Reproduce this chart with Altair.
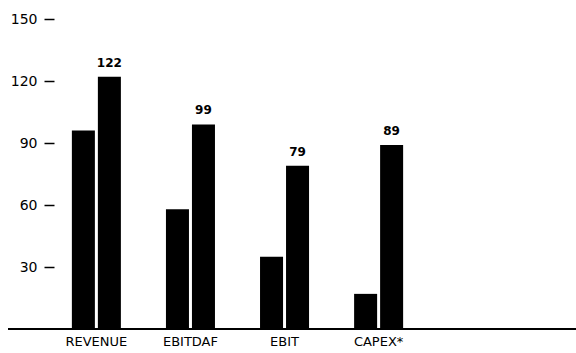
import altair as alt
import pandas as pd

# Key figures, prior period vs current period
categories = ["REVENUE", "EBITDAF", "EBIT", "CAPEX*"]
prior = [96, 58, 35, 17]
current = [122, 99, 79, 89]
y_ticks = [30, 60, 90, 120, 150]

rows = []
for c, p, q in zip(categories, prior, current):
    rows.append({"metric": c, "period": "prior", "value": p, "label": ""})
    rows.append({"metric": c, "period": "current", "value": q, "label": str(q)})
df = pd.DataFrame(rows)

W, H = 367, 310
LEFT, TOP = 54, 19

x_scale = alt.Scale(domain=categories, paddingInner=0.479, paddingOuter=0.19)
y_scale = alt.Scale(domain=[0, 150], nice=False)
off_scale = alt.Scale(domain=["prior", "current"], paddingInner=0.115, paddingOuter=0)
y_axis = alt.Axis(title=None, values=y_ticks)

base = alt.Chart(df).encode(
    x=alt.X(
        "metric:N",
        scale=x_scale,
        sort=categories,
        axis=alt.Axis(title=None, ticks=False, labelAngle=0, labelPadding=6),
    ),
    xOffset=alt.XOffset("period:N", scale=off_scale, sort=["prior", "current"]),
)

bars = base.mark_bar(color="#000").encode(
    y=alt.Y("value:Q", scale=y_scale, axis=y_axis)
)

labels = base.mark_text(
    font="DejaVu Sans", fontWeight="bold", fontSize=12, color="#000",
    baseline="alphabetic", dy=-10,
).encode(y=alt.Y("value:Q", scale=y_scale, axis=y_axis), text="label:N")

# baseline running across the whole width
baseline = alt.Chart(pd.DataFrame({"v": [0]})).mark_rule(
    color="#000", strokeWidth=2
).encode(
    y=alt.Y("v:Q", scale=y_scale, axis=y_axis),
    x=alt.value(-46),
    x2=alt.value(576 - LEFT),
)

chart = (
    alt.layer(bars, labels, baseline)
    .properties(
        width=W, height=H,
        autosize="none",
        background="#fff",
        padding={"left": LEFT, "top": TOP, "right": 576 - LEFT - W, "bottom": 353 - TOP - H},
    )
    .configure_view(strokeWidth=0, stroke="transparent")
    .configure_axis(
        domain=False, grid=False,
        labelFont="DejaVu Sans", labelColor="#000",
    )
    .configure_axisX(labelFontSize=13)
    .configure_axisY(
        labelFontSize=14, labelPadding=7,
        tickSize=10, tickWidth=1.5, tickColor="#000",
    )
)

chart.save("out.html", embed_options={"renderer": "svg", "actions": False})
